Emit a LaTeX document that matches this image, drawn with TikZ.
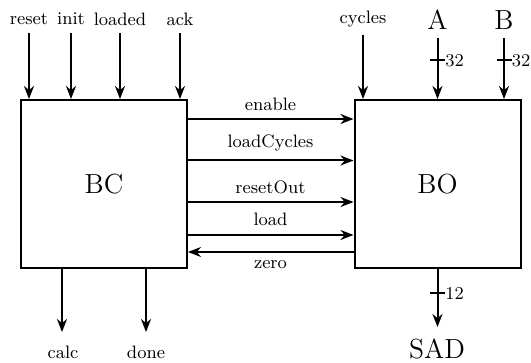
\documentclass[tikz,border=0pt]{standalone}
\usetikzlibrary{arrows.meta}
\begin{document}
\begin{tikzpicture}[x=0.5pt,y=-0.5pt,
  sig/.style={font=\fontsize{9}{11}\selectfont, inner sep=0pt},
  big/.style={font=\fontsize{13.8}{16}\selectfont, inner sep=0pt},
  blockbox/.style={draw, line width=1pt, minimum width=83pt, minimum height=84pt, inner sep=0pt, font=\fontsize{13.8}{16}\selectfont},
  wire/.style={line width=1pt, -{Stealth[length=6.5pt,width=5pt]}},
  busmark/.style={line width=1pt}]
\useasboundingbox (0,0) rectangle (531,363);
% blocks
\node[blockbox] (bc) at (104,184) {BC};
\node[blockbox] (bo) at (437.5,184) {BO};
% BC inputs
\node[sig] (reset) at (29,19) {reset};
\node[sig] (init) at (71,19) {init};
\node[sig] (loaded) at (120,19) {loaded};
\node[sig] (ack) at (180,19) {ack};
\coordinate (resetS) at (29,33);
\coordinate (initS) at (71,33);
\coordinate (loadedS) at (120,33);
\coordinate (ackS) at (180,33);
\draw[wire] (resetS) -- (resetS |- bc.north);
\draw[wire] (initS) -- (initS |- bc.north);
\draw[wire] (loadedS) -- (loadedS |- bc.north);
\draw[wire] (ackS) -- (ackS |- bc.north);
% BO inputs
\node[sig] (cycles) at (363,19) {cycles};
\node[big] (A) at (437.5,20) {A};
\node[big] (B) at (504,20) {B};
\coordinate (cyclesS) at (363,35);
\coordinate (AS) at (437.5,38);
\coordinate (BS) at (504,38);
\draw[wire] (cyclesS) -- (cyclesS |- bo.north);
\draw[wire] (AS) -- (AS |- bo.north);
\draw[wire] (BS) -- (BS |- bo.north);
\draw[busmark] (430,60) -- (445,60);
\draw[busmark] (496.5,60) -- (511.5,60);
\node[sig, anchor=west] (wA) at (445,61) {32};
\node[sig, anchor=west] (wB) at (511.5,61) {32};
% horizontal signals
\draw[wire] (bc.east |- 0,119) -- (bo.west |- 0,119);
\draw[wire] (bc.east |- 0,160.5) -- (bo.west |- 0,160.5);
\draw[wire] (bc.east |- 0,202) -- (bo.west |- 0,202);
\draw[wire] (bc.east |- 0,235) -- (bo.west |- 0,235);
\draw[wire] (bo.west |- 0,252) -- (bc.east |- 0,252);
\node[sig] (enable) at (270.5,104) {enable};
\node[sig] (loadCycles) at (270.5,143) {loadCycles};
\node[sig] (resetOut) at (270.5,187) {resetOut};
\node[sig] (load) at (270.5,219) {load};
\node[sig] (zero) at (270.5,265) {zero};
% BC outputs
\coordinate (calcE) at (62,332);
\coordinate (doneE) at (146,332);
\draw[wire] (calcE |- bc.south) -- (calcE);
\draw[wire] (doneE |- bc.south) -- (doneE);
\node[sig] (calc) at (63,352) {calc};
\node[sig] (done) at (146,352) {done};
% BO output
\coordinate (sadE) at (437.5,327);
\draw[wire] (bo.south) -- (sadE);
\draw[busmark] (430,293) -- (445,293);
\node[sig, anchor=west] (wS) at (445,294) {12};
\node[big] (SAD) at (437,349) {SAD};
\end{tikzpicture}
\end{document}
